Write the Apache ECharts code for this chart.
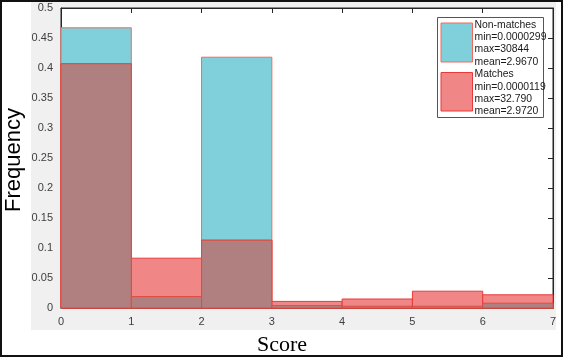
<!DOCTYPE html>
<html><head><meta charset="utf-8">
<script src="https://cdn.jsdelivr.net/npm/echarts@6/dist/echarts.min.js"></script>
<style>html,body{margin:0;padding:0;background:#fff}#c{width:563px;height:357px}</style>
</head><body><div id="c"></div>
<script>
var binEdges = [0, 1, 2, 3, 4, 5, 6, 7];
var nonMatches = [0.467, 0.019, 0.418, 0.004, 0.003, 0.003, 0.008];
var matches = [0.407, 0.083, 0.113, 0.011, 0.015, 0.028, 0.022];
var yTicks = [0, 0.05, 0.1, 0.15, 0.2, 0.25, 0.3, 0.35, 0.4, 0.45, 0.5];
var legendNon = ['Non-matches', 'min=0.0000299', 'max=30844', 'mean=2.9670'];
var legendMat = ['Matches', 'min=0.0000119', 'max=32.790', 'mean=2.9720'];

function bins(vals) {
  return vals.map(function (v, i) { return [binEdges[i], binEdges[i + 1], v]; });
}
var overlap = nonMatches.map(function (v, i) { return Math.min(v, matches[i]); });

function rectSeries(name, data, fill, stroke, z) {
  return {
    type: 'custom', name: name, z: z,
    encode: { x: [0, 1], y: 2 },
    data: data,
    renderItem: function (params, api) {
      var p0 = api.coord([api.value(0), api.value(2)]);
      var p1 = api.coord([api.value(1), 0]);
      return {
        type: 'rect',
        shape: { x: p0[0], y: p0[1], width: p1[0] - p0[0], height: p1[1] - p0[1] },
        style: { fill: fill, stroke: stroke, lineWidth: 1 }
      };
    }
  };
}

var chart = echarts.init(document.getElementById('c'), null, { renderer: 'canvas' });
var axisCol = '#262626';
var lblCol = '#404040';
var gfx = [
  { type: 'rect', z: -10, shape: { x: 31, y: 0, width: 525, height: 330 }, style: { fill: '#f0f0f0' } },
  { type: 'rect', z: 100, shape: { x: 1, y: 1, width: 561, height: 355 }, style: { fill: 'none', stroke: '#111', lineWidth: 2 } },
  { type: 'text', z: 100, x: 14, y: 160, rotation: Math.PI / 2, style: { text: 'Frequency', font: '22px "Liberation Sans", Arial, sans-serif', fill: '#000', align: 'center', verticalAlign: 'middle' } },
  { type: 'text', z: 100, x: 282, y: 345, style: { text: 'Score', font: '22px "Liberation Serif", "Times New Roman", serif', fill: '#000', align: 'center', verticalAlign: 'middle' } },
  { type: 'rect', z: 100, shape: { x: 437.5, y: 17.5, width: 106, height: 100 }, style: { fill: '#fff', stroke: '#555', lineWidth: 1 } },
  { type: 'rect', z: 101, shape: { x: 441, y: 23, width: 31.5, height: 39 }, style: { fill: '#80d0dc', stroke: '#ee6a5c', lineWidth: 1 } },
  { type: 'rect', z: 101, shape: { x: 441, y: 72.5, width: 31.5, height: 38.5 }, style: { fill: '#f08686', stroke: '#e83a3a', lineWidth: 1 } }
];
legendNon.forEach(function (t, i) {
  gfx.push({ type: 'text', z: 102, x: 474.5, y: 25 + i * 12.3, style: { text: t, font: '10.4px "Liberation Sans", Arial, sans-serif', fill: '#1a1a1a', verticalAlign: 'middle' } });
});
legendMat.forEach(function (t, i) {
  gfx.push({ type: 'text', z: 102, x: 474.5, y: 74.5 + i * 12.3, style: { text: t, font: '10.4px "Liberation Sans", Arial, sans-serif', fill: '#1a1a1a', verticalAlign: 'middle' } });
});

function xAxisDef(pos, showLabel) {
  return {
    type: 'value', position: pos, min: binEdges[0], max: binEdges[binEdges.length - 1], interval: 1,
    axisLine: { show: true, onZero: false, lineStyle: { color: axisCol, width: 1 } },
    axisTick: { show: true, inside: true, length: 5, lineStyle: { color: axisCol } },
    axisLabel: { show: showLabel, color: lblCol, fontSize: 11, margin: 8, fontFamily: 'Liberation Sans, Arial, sans-serif' },
    splitLine: { show: false }
  };
}
function yAxisDef(pos, showLabel) {
  return {
    type: 'value', position: pos, min: yTicks[0], max: yTicks[yTicks.length - 1], interval: 0.05,
    axisLine: { show: true, onZero: false, lineStyle: { color: axisCol, width: 1 } },
    axisTick: { show: true, inside: true, length: 5, lineStyle: { color: axisCol } },
    axisLabel: { show: showLabel, color: lblCol, fontSize: 11, margin: 8, fontFamily: 'Liberation Sans, Arial, sans-serif', formatter: function (v) { return String(+v.toFixed(2)); } },
    splitLine: { show: false }
  };
}

chart.setOption({
  animation: false,
  backgroundColor: 'transparent',
  grid: { left: 61, right: 10, top: 8, bottom: 49, containLabel: false, show: true, backgroundColor: '#fff', borderWidth: 1, borderColor: axisCol },
  xAxis: [xAxisDef('bottom', true), xAxisDef('top', false)],
  yAxis: [yAxisDef('left', true), yAxisDef('right', false)],
  graphic: gfx,
  series: [
    rectSeries('Non-matches', bins(nonMatches), '#80d0dc', '#ee6a5c', 2),
    rectSeries('Matches', bins(matches), '#f08686', '#e83a3a', 3),
    rectSeries('Overlap', bins(overlap), '#b08080', '#e04a40', 4)
  ]
});
</script></body></html>
